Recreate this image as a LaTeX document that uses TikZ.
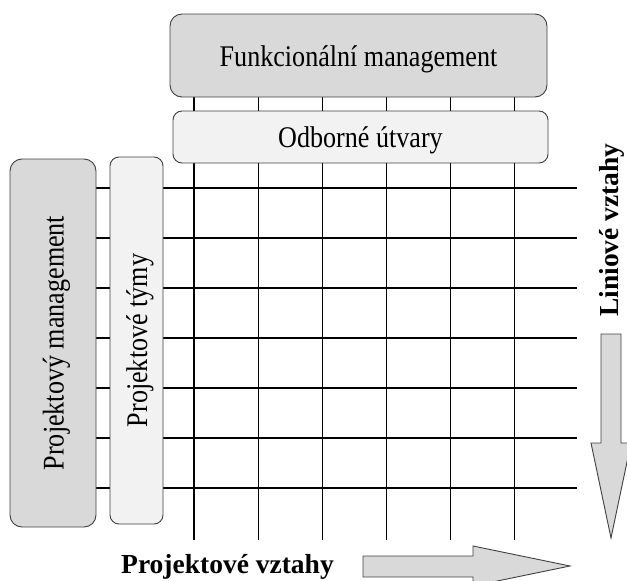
\documentclass[tikz,border=0pt]{standalone}
\usepackage{fontspec}
\setmainfont{Liberation Serif}
\definecolor{boxdark}{HTML}{D9D9D9}
\definecolor{boxlight}{HTML}{F2F2F2}
\definecolor{edge}{HTML}{404040}
\newcommand{\regtext}[1]{\fontsize{30}{34}\selectfont\scalebox{0.87}[1]{#1}}
\newcommand{\boldtext}[1]{\fontsize{27.5}{32}\selectfont\bfseries #1}
\begin{document}
\begin{tikzpicture}[x=1pt,y=-1pt,
  gridline/.style={line width=1.2pt,black},
  unitbox/.style={draw=edge,line width=0.9pt,rounded corners=12pt,inner sep=0pt,
    text height=21pt,text depth=0pt},
  darkbox/.style={unitbox,fill=boxdark},
  lightbox/.style={unitbox,fill=boxlight,rounded corners=9pt},
  bigarrow/.style={draw=edge,line width=0.9pt,fill=boxdark}]
\useasboundingbox (0,0) rectangle (627,581);

% matrix of relations
\foreach \i in {0,...,5}
  \draw[gridline] ({194+64.1*\i},97) -- ({194+64.1*\i},540);
\foreach \j in {0,...,6}
  \draw[gridline] (96,{188+50*\j}) -- (577,{188+50*\j});

% functional side
\node[darkbox,minimum width=377pt,minimum height=83pt] (fm) at (358.5,55.5)
  {\regtext{Funkcionální management}};
\node[lightbox,minimum width=375pt,minimum height=52pt] (ou) at (360.5,137)
  {\regtext{Odborné útvary}};

% project side
\node[darkbox,rotate=90,minimum width=368pt,minimum height=86pt] (pm) at (53,343)
  {\regtext{Projektový management}};
\node[lightbox,rotate=90,minimum width=367pt,minimum height=53pt] (pt) at (136.5,340.5)
  {\regtext{Projektové týmy}};

% direction arrows
\draw[bigarrow] (601,334) -- (621,334) -- (621,443) -- (631,443) -- (611,538)
  -- (591,443) -- (601,443) -- cycle;
\draw[bigarrow] (363,556) -- (473,556) -- (473,546) -- (570,566) -- (473,586)
  -- (473,577) -- (363,577) -- cycle;

\node[rotate=90,anchor=base,inner sep=0pt] (lv) at (618,230) {\boldtext{Liniové vztahy}};
\node[anchor=base,inner sep=0pt] (pv) at (227.5,573) {\boldtext{Projektové vztahy}};
\end{tikzpicture}
\end{document}
